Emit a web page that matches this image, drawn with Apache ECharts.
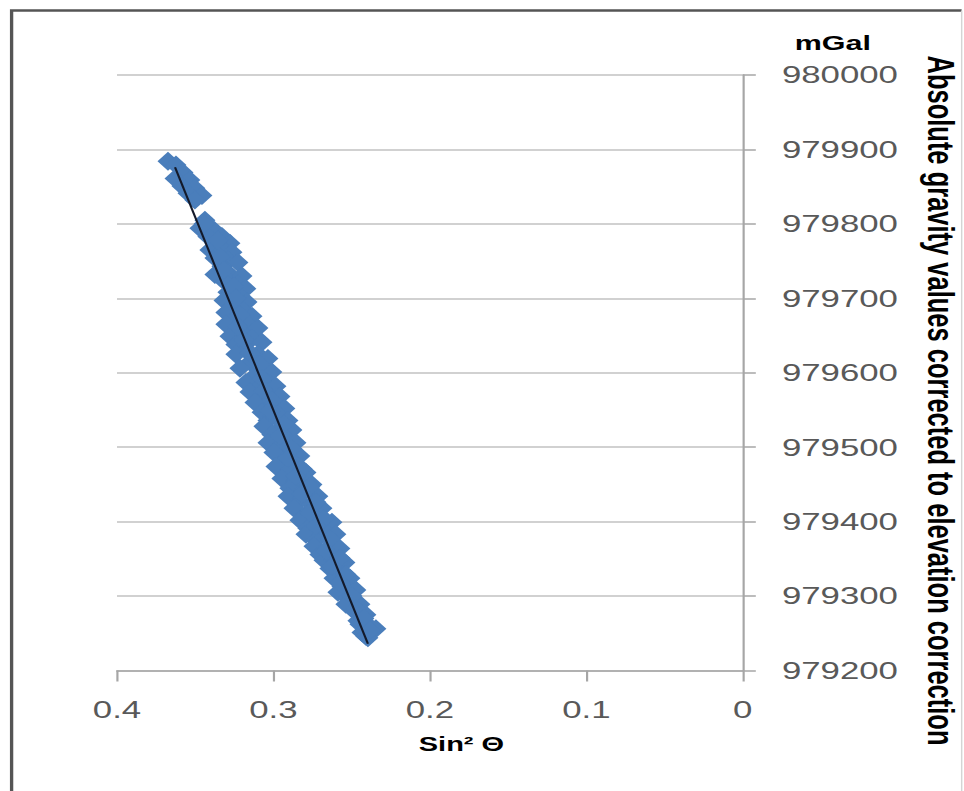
<!DOCTYPE html>
<html>
<head>
<meta charset="utf-8">
<script src="https://cdn.jsdelivr.net/npm/echarts@6/dist/echarts.min.js"></script>
<style>
html,body{margin:0;padding:0;background:#fff;overflow:hidden;}
#wrap{width:964px;height:791px;overflow:hidden;position:relative;background:#fff;}
#chart{width:665px;height:791px;transform:scaleX(1.4496);transform-origin:0 0;}
</style>
</head>
<body>
<div id="wrap"><div id="chart"></div></div>
<script>
// ---- data ----
const sinSq = [
  0.3674,0.3623,0.3578,0.3629,0.3534,0.3585,0.3502,0.3546,0.3457,0.3502,
  0.3438,0.3470,0.3393,0.3419,0.3329,0.3374,0.3278,0.3406,0.3316,0.3265,
  0.3374,0.3291,0.3227,0.3329,0.3374,0.3278,0.3201,0.3310,0.3227,0.3176,
  0.3291,0.3214,0.3316,0.3169,0.3265,0.3304,0.3195,0.3137,0.3246,0.3304,
  0.3163,0.3099,0.3214,0.3278,0.3137,0.3240,0.3073,0.3176,0.3240,0.3099,
  0.3035,0.3150,0.3214,0.3073,0.3010,0.3125,0.3176,0.3035,0.3099,0.2984,
  0.3150,0.3048,0.2958,0.3118,0.3010,0.2927,0.3073,0.2971,0.3035,0.2907,
  0.3061,0.2958,0.2882,0.3010,0.2920,0.3035,0.2856,0.2958,0.2997,0.2882,
  0.2831,0.2933,0.2984,0.2843,0.2895,0.2792,0.2946,0.2856,0.2754,0.2895,
  0.2805,0.2907,0.2716,0.2831,0.2754,0.2869,0.2690,0.2792,0.2831,0.2716,
  0.2626,0.2780,0.2677,0.2792,0.2601,0.2728,0.2741,0.2639,0.2575,0.2703,
  0.2677,0.2613,0.2543,0.2639,0.2575,0.2613,0.2511,0.2562,0.2588,0.2473,
  0.2524,0.2537,0.2447,0.2473,0.2409,0.2460,0.2447,0.2383,0.2345,0.2434,
  0.2409,0.2396,
  0.3444,0.3355,0.3342,0.3316,0.3252,0.3240,0.3214,0.3227,0.3188,0.3150,
  0.3086,0.3073,0.3061,0.3010,0.3022,0.2933,0.2958,0.2882,0.2907,0.2818,
  0.2856,0.2767,0.2818,0.2728,0.2767,0.2677,0.2728,0.2639,0.2665,0.2575,
  0.2626,0.2537,0.2575,0.2498,0.2473,0.2422,0.2383
];
const gravity = [
  979884,979879,979869,979861,979859,979851,979848,979841,979838,979832,
  979805,979794,979794,979783,979783,979774,979774,979765,979765,979762,
  979754,979751,979748,979743,979732,979732,979730,979722,979719,979713,
  979708,979703,979697,979695,979689,979681,979684,979676,979673,979665,
  979665,979660,979654,979649,979646,979638,979641,979630,979625,979625,
  979619,979614,979606,979606,979601,979595,979587,979587,979579,979582,
  979574,979568,979568,979560,979558,979552,979547,979544,979536,979536,
  979528,979525,979523,979517,979512,979506,979506,979501,979493,979493,
  979488,979482,979474,979474,979469,979466,979458,979455,979450,979445,
  979442,979434,979434,979428,979423,979418,979418,979410,979402,979402,
  979399,979391,979388,979383,979383,979375,979367,979367,979364,979356,
  979348,979348,979345,979337,979332,979324,979324,979313,979305,979308,
  979297,979289,979289,979278,979275,979267,979262,979259,979256,979251,
  979246,979244,
  979800,979778,979756,979738,979716,979700,979678,979662,979644,979627,
  979611,979592,979576,979563,979549,979531,979515,979498,979485,979471,
  979461,979447,979437,979426,979412,979404,979394,979377,979361,979351,
  979340,979329,979318,979300,979283,979270,979254
];
// trend line end points
const trendSinSq = [0.3629, 0.2396];
const trendGravity = [979876, 979236];
// tick labels
const xTickLabels = ['0', '0.1', '0.2', '0.3', '0.4'];
const yTickLabels = ['979200','979300','979400','979500','979600','979700','979800','979900','980000'];
const xTitle = 'Sin\u00B2 \u0398';
const yTitle = 'Absolute gravity values corrected to elevation correction';
const unitLabel = 'mGal';

// ---- chart ----
const FONT = '"Liberation Sans", Arial, sans-serif';
const points = sinSq.map((s, i) => [s, gravity[i]]);
const trend = trendSinSq.map((s, i) => [s, trendGravity[i]]);

const chart = echarts.init(document.getElementById('chart'), null, {renderer: 'svg'});
chart.setOption({
  animation: false,
  backgroundColor: '#ffffff',
  grid: {left: 80.7, right: 152.6, top: 75, bottom: 120.5, containLabel: false},
  xAxis: {
    type: 'value', min: 0, max: 0.4, interval: 0.1, inverse: true, position: 'bottom',
    axisLine: {show: true, onZero: false, lineStyle: {color: '#a6a6a6', width: 1.5}},
    axisTick: {show: true, inside: false, length: 11, lineStyle: {color: '#a6a6a6', width: 1.5}},
    splitLine: {show: false},
    axisLabel: {
      fontSize: 24, color: '#595959', margin: 27, fontFamily: FONT,
      formatter: v => xTickLabels[Math.round(v * 10)]
    }
  },
  yAxis: {
    type: 'value', position: 'right', min: 979200, max: 980000, interval: 100,
    axisLine: {show: true, onZero: false, lineStyle: {color: '#a6a6a6', width: 1.5}},
    axisTick: {show: true, inside: false, length: 9, lineStyle: {color: '#a6a6a6', width: 1.5}},
    splitLine: {show: true, lineStyle: {color: '#c2c2c2', width: 1.5}},
    axisLabel: {
      fontSize: 24, color: '#595959', margin: 27, fontFamily: FONT, align: 'left',
      formatter: v => yTickLabels[Math.round((v - 979200) / 100)]
    }
  },
  series: [
    {
      type: 'scatter', data: points, symbol: 'diamond', symbolSize: [14.5, 19],
      itemStyle: {color: '#4A7EBB', opacity: 1}, z: 2
    },
    {
      type: 'line', data: trend, symbol: 'none', z: 3,
      lineStyle: {color: '#141a2a', width: 1.5}
    }
  ],
  graphic: [
    {type: 'polyline', silent: true, shape: {points: [[8, 800], [8, 10.5], [663.4, 10.5]]},
     style: {stroke: '#555555', lineWidth: 2.3, fill: null}},
    {type: 'polyline', silent: true, shape: {points: [[663.4, 10.5], [663.4, 800]]},
     style: {stroke: '#d4d4d4', lineWidth: 1, fill: null}},
    {type: 'text', x: 574.5, y: 42.5, silent: true,
     style: {text: unitLabel, fontSize: 21, fontWeight: 'bold', fontFamily: FONT, fill: '#000',
             align: 'center', verticalAlign: 'middle', textAlign: 'center', textVerticalAlign: 'middle'}},
    {type: 'text', x: 649, y: 400.5, rotation: -Math.PI / 2, silent: true,
     style: {text: yTitle, fontSize: 25.5, fontWeight: 'bold', fontFamily: FONT, fill: '#000',
             align: 'center', verticalAlign: 'middle', textAlign: 'center', textVerticalAlign: 'middle'}},
    {type: 'text', x: 318.3, y: 744, silent: true,
     style: {text: xTitle, fontSize: 20, fontWeight: 'bold', fontFamily: FONT, fill: '#000',
             align: 'center', verticalAlign: 'middle', textAlign: 'center', textVerticalAlign: 'middle'}}
  ]
});
</script>
</body>
</html>
